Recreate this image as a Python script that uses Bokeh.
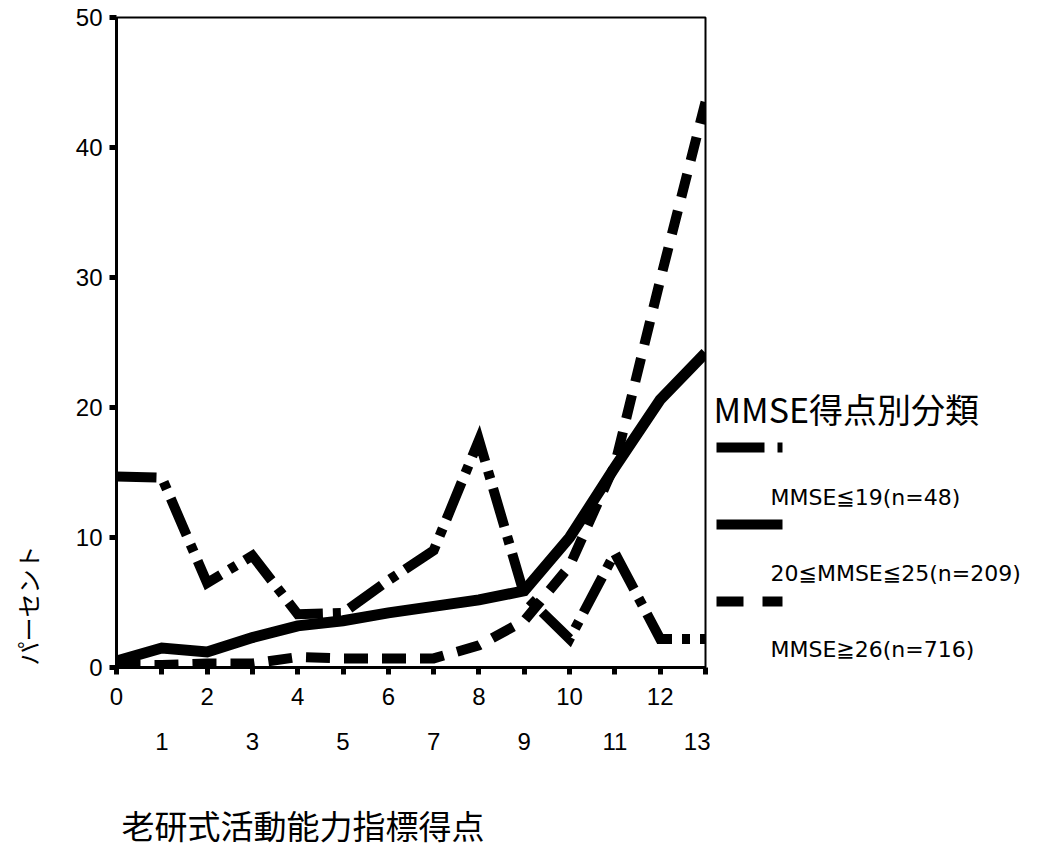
from bokeh.plotting import figure
from bokeh.models import Range1d, LinearAxis, FixedTicker
from bokeh.layouts import row, column
from bokeh.core.properties import value
from bokeh.embed import file_html
from bokeh.resources import INLINE
import math

# ---- data ----
scores = list(range(14))
mmse_le19 = [14.7, 14.6, 6.5, 8.6, 4.1, 4.2, 6.7, 9.0, 17.5, 5.6, 2.2, 8.8, 2.2, 2.2]
mmse_20_25 = [0.5, 1.5, 1.2, 2.3, 3.2, 3.6, 4.2, 4.7, 5.2, 5.9, 10.0, 15.4, 20.6, 24.2]
mmse_ge26 = [0.2, 0.2, 0.3, 0.3, 0.8, 0.7, 0.7, 0.7, 1.7, 3.6, 7.8, 15.6, 29.8, 43.5]
series_labels = ["MMSE≦19(n=48)", "20≦MMSE≦25(n=209)", "MMSE≧26(n=716)"]
legend_title = "MMSE得点別分類"
x_title = "老研式活動能力指標得点"
y_title = "パーセント"
even_ticks = [0, 2, 4, 6, 8, 10, 12]
odd_ticks = [1, 3, 5, 7, 9, 11, 13]
y_ticks = [0, 10, 20, 30, 40, 50]

NUM_FONT = "Liberation Sans"
JP_FONT = "Noto Sans CJK JP"

TOP, ROW_H = 17, 780
BOTTOM = ROW_H - 667


def blank_fig(w, h, xr, yr, top=TOP, bottom=BOTTOM):
    f = figure(width=w, height=h, x_range=xr, y_range=yr, output_backend="svg",
               toolbar_location=None, min_border_left=0, min_border_right=0,
               min_border_top=top, min_border_bottom=bottom)
    f.axis.visible = False
    f.grid.visible = False
    f.outline_line_color = None
    return f


p = figure(width=654, height=ROW_H, x_range=Range1d(0, 13), y_range=Range1d(0, 50),
           output_backend="svg", toolbar_location=None,
           min_border_left=60, min_border_right=5, min_border_top=TOP, min_border_bottom=BOTTOM)
p.grid.visible = False
p.outline_line_color = "black"
p.outline_line_width = 2

# lines
p.line(scores, mmse_le19, line_color="black", line_width=10, line_dash="40 10 8 10",
       line_cap="butt", line_join="miter")
p.line(scores, mmse_ge26, line_color="black", line_width=10, line_dash="24 14",
       line_cap="butt", line_join="miter")
p.line(scores, mmse_20_25, line_color="black", line_width=11, line_join="miter")

# axes
xa = p.xaxis[0]
xa.ticker = FixedTicker(ticks=scores)
xa.major_label_overrides = {t: "" for t in odd_ticks}
xa.axis_line_width = 3
xa.axis_line_color = "black"
xa.major_tick_out = 7
xa.major_tick_in = 0
xa.major_tick_line_width = 5
xa.minor_tick_line_color = None
xa.major_label_standoff = 13
xa.major_label_text_font = NUM_FONT
xa.major_label_text_font_size = "24px"
xa.major_label_text_color = "black"

ax2 = LinearAxis(ticker=FixedTicker(ticks=odd_ticks), axis_line_color=None,
                 major_tick_line_color=None, minor_tick_line_color=None,
                 major_label_standoff=19, major_label_text_font=NUM_FONT,
                 major_label_text_font_size="24px", major_label_text_color="black")
p.add_layout(ax2, "below")

ya = p.yaxis[0]
ya.ticker = FixedTicker(ticks=y_ticks)
ya.axis_line_width = 3
ya.axis_line_color = "black"
ya.major_tick_out = 7
ya.major_tick_in = 0
ya.major_tick_line_width = 5
ya.minor_tick_line_color = None
ya.major_label_standoff = 7
ya.major_label_text_font = NUM_FONT
ya.major_label_text_font_size = "24px"
ya.major_label_text_color = "black"

# ---- y title strip (y measured upward from the frame bottom) ----
yfig = blank_fig(56, ROW_H, Range1d(0, 56), Range1d(0, 650))
yfig.text(x=[27], y=[62], text=[y_title], angle=math.pi / 2, text_font=value(JP_FONT),
          text_font_size=value("24px"), text_align="center", text_baseline="middle",
          text_color="black")

# ---- legend panel (coords in page pixels) ----
leg = blank_fig(339, ROW_H, Range1d(710, 1049), Range1d(667, 17))
leg.text(x=[713], y=[408], text=[legend_title], text_font=value(JP_FONT),
         text_font_size=value("34px"), text_align="left", text_baseline="middle",
         text_color="black")
styles = [dict(line_width=10, line_dash="48 13 7 20"),
          dict(line_width=10, line_dash="solid"),
          dict(line_width=10, line_dash="27 19")]
sample_y = [447, 524, 601]
label_y = [497, 573, 649]
for lbl, st, sy, ly in zip(series_labels, styles, sample_y, label_y):
    leg.line([716, 782], [sy, sy], line_color="black", line_cap="butt", **st)
    leg.text(x=[770], y=[ly], text=[lbl], text_font=value("DejaVu Sans"),
             text_font_size=value("22px"), text_align="left", text_baseline="middle",
             text_color="black")

# ---- x title strip (coords in page pixels) ----
xfig = blank_fig(1049, 847 - ROW_H, Range1d(0, 1049), Range1d(847, ROW_H), top=0, bottom=0)
xfig.text(x=[121], y=[824], text=[x_title], text_font=value(JP_FONT),
          text_font_size=value("33px"), text_align="left", text_baseline="middle",
          text_color="black")

layout = column(row(yfig, p, leg), xfig)
open("out.html", "w").write(file_html(layout, INLINE))
